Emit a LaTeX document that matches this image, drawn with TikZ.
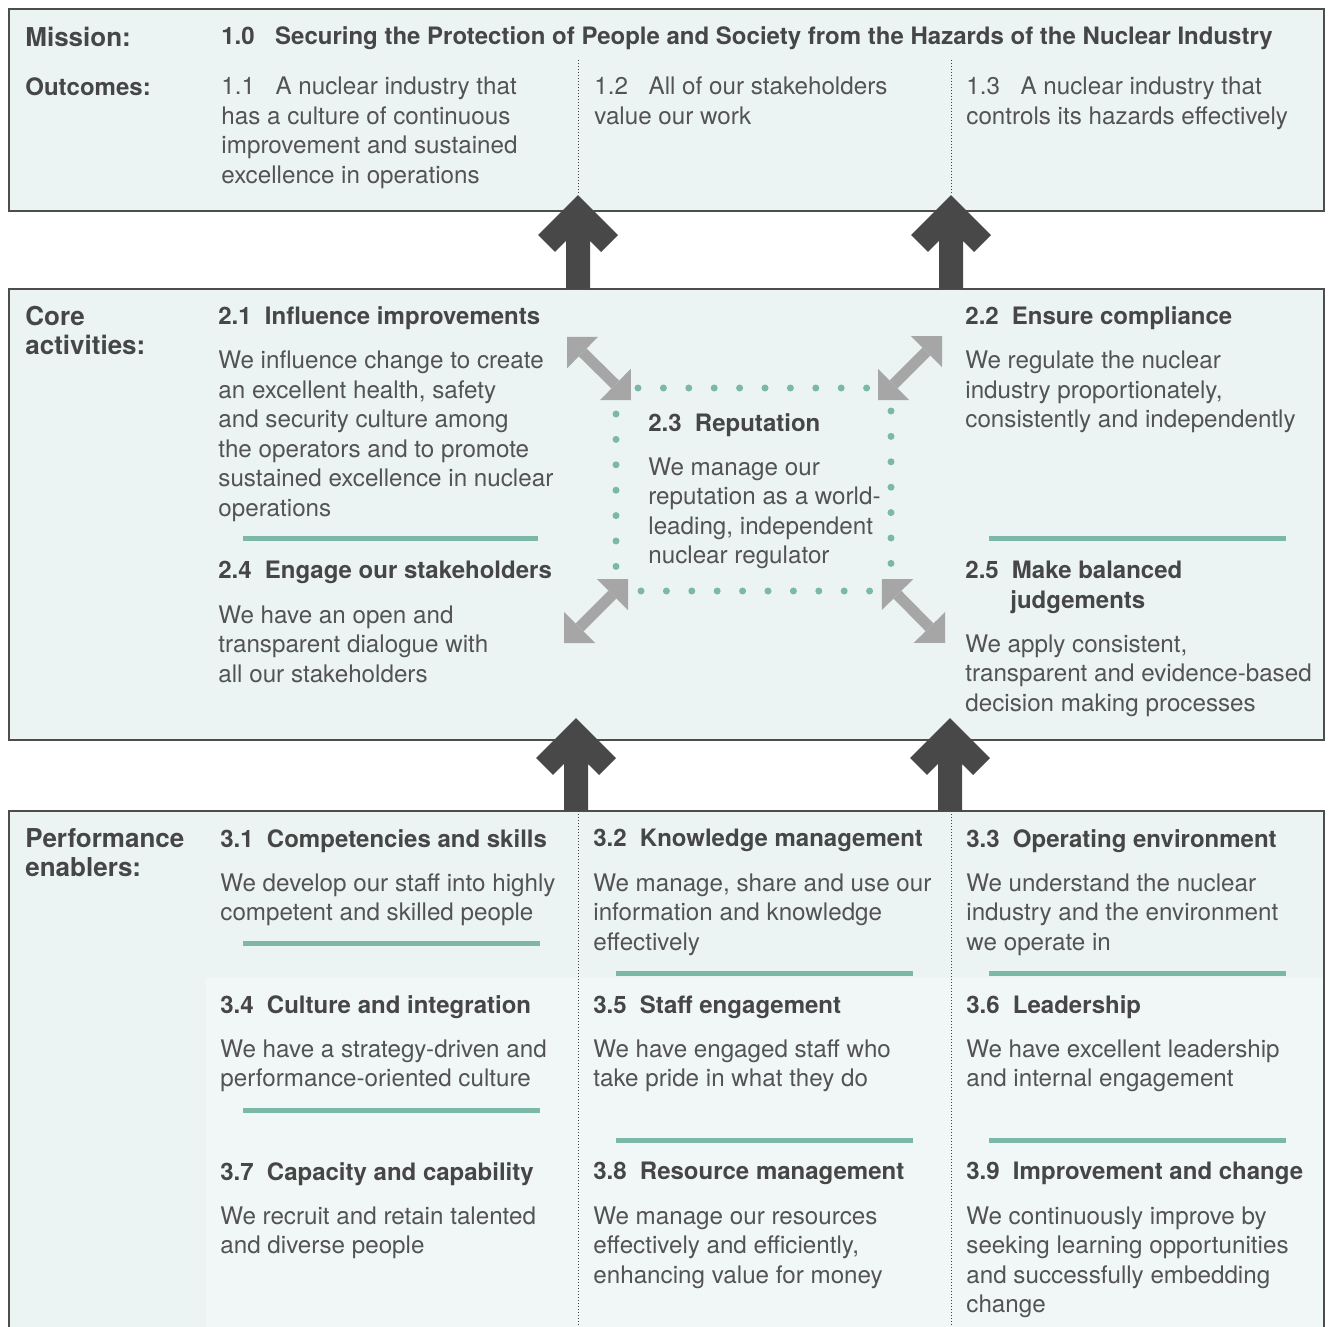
\documentclass[tikz,border=0pt]{standalone}
\usepackage{fontspec}
\setmainfont{TeX Gyre Heros}
\usetikzlibrary{arrows.meta}

\definecolor{ink}{HTML}{464646}
\definecolor{softink}{HTML}{535353}
\definecolor{panelfill}{HTML}{EBF4F3}
\definecolor{cellfill}{HTML}{F1F7F6}
\definecolor{frame}{HTML}{4D4D4D}
\definecolor{sage}{HTML}{7BB8A8}
\definecolor{arrowgrey}{HTML}{A6A6A6}
\definecolor{arrowdark}{HTML}{484848}

\newcommand\hgap{\hspace{0.55em}}
\newcommand\ogap{\hspace{0.85em}}

\tikzset{
  panel/.style={draw=frame, line width=0.7pt, fill=panelfill},
  rowname/.style={anchor=north west, inner sep=0pt, text=ink, align=left,
    font=\fontsize{13}{14.5}\selectfont\bfseries},
  cellhead/.style={anchor=north west, inner sep=0pt, text=ink, align=left,
    font=\fontsize{12}{14.75}\selectfont\bfseries},
  cellbody/.style={anchor=north west, inner sep=0pt, text=softink, align=left,
    font=\fontsize{12.1}{14.75}\selectfont},
  sepline/.style={draw=sage, line width=2.5pt},
  divider/.style={draw=black!75, line width=0.5pt, dash pattern=on 0.5pt off 1pt},
  dotline/.style={draw=sage, line width=3.5pt, line cap=round, dash pattern=on 0pt off 12.7pt},
  twoway/.style={draw=arrowgrey, line width=5.5pt,
    {Triangle[length=11pt,width=22pt,line width=0pt]}-{Triangle[length=11pt,width=22pt,line width=0pt]}},
  bigarrow/.style={draw=arrowdark, line width=12pt},
}

\begin{document}
\begin{tikzpicture}[x=0.5pt, y=-0.5pt]
    \fill[white] (0,0) rectangle (1330,1327);
    \useasboundingbox (0,0) rectangle (1330,1327);

    % panels
    \draw[panel] (9,9) rectangle (1324,211);
    \draw[panel] (9,289) rectangle (1324,740);
    \fill[panelfill] (9,811) rectangle (1324,1327);
    \fill[cellfill] (206,978) rectangle (1324,1327);
    \draw[draw=frame, line width=0.7pt] (9,1328) -- (9,811) -- (1324,811) -- (1324,1328);

    % dotted column lines
    \draw[divider] (578,60) -- (578,195);
    \draw[divider] (951,60) -- (951,195);
    \draw[divider] (578,811) -- (578,1327);
    \draw[divider] (951,811) -- (951,1327);

    % mission and outcomes
    \node[rowname] (missionlbl) at (25,26.3) {Mission:};
    \node[cellhead] (mission) at (221,26.5) {1.0\ogap Securing the Protection of People and Society from the Hazards of the Nuclear Industry};
    \node[rowname, font=\fontsize{12}{14.5}\selectfont\bfseries] (outcomeslbl) at (25,77) {Outcomes:};
    \node[cellbody] (out11) at (221,76.5) {1.1\ogap A nuclear industry that\\has a culture of continuous\\improvement and sustained\\excellence in operations};
    \node[cellbody] (out12) at (594,76.5) {1.2\ogap All of our stakeholders\\value our work};
    \node[cellbody] (out13) at (966,76.5) {1.3\ogap A nuclear industry that\\controls its hazards effectively};

    % core activities
    \node[rowname] (corelbl) at (25,306) {Core\\activities:};
    \node[cellhead] (h21) at (218,306.5) {2.1\hgap Influence improvements};
    \node[cellbody] (b21) at (218,350.5) {We influence change to create\\an excellent health, safety\\and security culture among\\the operators and to promote\\sustained excellence in nuclear\\operations};
    \node[cellhead] (h24) at (218,561) {2.4\hgap Engage our stakeholders};
    \node[cellbody] (b24) at (218,605) {We have an open and\\transparent dialogue with\\all our stakeholders};
    \node[cellhead] (h22) at (965,306.5) {2.2\hgap Ensure compliance};
    \node[cellbody] (b22) at (965,350.5) {We regulate the nuclear\\industry proportionately,\\consistently and independently};
    \node[cellhead] (h25) at (965,561) {2.5\hgap Make balanced\\\hspace*{1.875em}judgements};
    \node[cellbody] (b25) at (965,634) {We apply consistent,\\transparent and evidence-based\\decision making processes};
    \node[cellhead] (h23) at (648,413) {2.3\hgap Reputation};
    \node[cellbody] (b23) at (648,457) {We manage our\\reputation as a world-\\leading, independent\\nuclear regulator};

    \draw[sepline] (243,538) -- (538,538);
    \draw[sepline] (989,538) -- (1286,538);

    % reputation frame
    \draw[dotline] (638,388) -- (868,388);
    \draw[dotline] (641,591) -- (871,591);
    \draw[dotline] (616,414) -- (616,569);
    \draw[dotline] (891,411) -- (891,568);

    \coordinate (tl1) at (567,337);
    \coordinate (tl2) at (631,400);
    \coordinate (tr1) at (942,336);
    \coordinate (tr2) at (878,400);
    \coordinate (bl1) at (564,643);
    \coordinate (bl2) at (628,579);
    \coordinate (br1) at (945,643);
    \coordinate (br2) at (882,579);
    \draw[twoway] (tl1) -- (tl2);
    \draw[twoway] (tr1) -- (tr2);
    \draw[twoway] (bl1) -- (bl2);
    \draw[twoway] (br1) -- (br2);

    % performance enablers
    \node[rowname] (enablerslbl) at (25,828) {Performance\\enablers:};
    \node[cellhead] (h31) at (220,829) {3.1\hgap Competencies and skills};
    \node[cellbody] (b31) at (220,873) {We develop our staff into highly\\competent and skilled people};
    \node[cellhead] (h32) at (593,829) {3.2\hgap Knowledge management};
    \node[cellbody] (b32) at (593,873) {We manage, share and use our\\information and knowledge\\effectively};
    \node[cellhead] (h33) at (966,829) {3.3\hgap Operating environment};
    \node[cellbody] (b33) at (966,873) {We understand the nuclear\\industry and the environment\\we operate in};

    \node[cellhead] (h34) at (220,995) {3.4\hgap Culture and integration};
    \node[cellbody] (b34) at (220,1039) {We have a strategy-driven and\\performance-oriented culture};
    \node[cellhead] (h35) at (593,995) {3.5\hgap Staff engagement};
    \node[cellbody] (b35) at (593,1039) {We have engaged staff who\\take pride in what they do};
    \node[cellhead] (h36) at (966,995) {3.6\hgap Leadership};
    \node[cellbody] (b36) at (966,1039) {We have excellent leadership\\and internal engagement};

    \node[cellhead] (h37) at (220,1162) {3.7\hgap Capacity and capability};
    \node[cellbody] (b37) at (220,1206) {We recruit and retain talented\\and diverse people};
    \node[cellhead] (h38) at (593,1162) {3.8\hgap Resource management};
    \node[cellbody] (b38) at (593,1206) {We manage our resources\\effectively and efficiently,\\enhancing value for money};
    \node[cellhead] (h39) at (966,1162) {3.9\hgap Improvement and change};
    \node[cellbody] (b39) at (966,1206) {We continuously improve by\\seeking learning opportunities\\and successfully embedding\\change};

    \draw[sepline] (243,943) -- (540,943);
    \draw[sepline] (616,973) -- (913,973);
    \draw[sepline] (989,973) -- (1286,973);
    \draw[sepline] (243,1110) -- (540,1110);
    \draw[sepline] (616,1140) -- (913,1140);
    \draw[sepline] (989,1140) -- (1286,1140);

    % upward arrows
    \coordinate (out1) at (578,195);
    \coordinate (core1) at (578,289);
    \coordinate (out2) at (951,195);
    \coordinate (core2) at (951,289);
    \coordinate (core3) at (576,718);
    \coordinate (base3) at (576,811);
    \coordinate (core4) at (950,718);
    \coordinate (base4) at (950,811);
    \draw[bigarrow] (core1) -- ([yshift=-8.5pt]out1) ++(-31.5,31.5) -- ++(31.5,-31.5) -- ++(31.5,31.5);
    \draw[bigarrow] (core2) -- ([yshift=-8.5pt]out2) ++(-31.5,31.5) -- ++(31.5,-31.5) -- ++(31.5,31.5);
    \draw[bigarrow] (base3) -- ([yshift=-8.5pt]core3) ++(-31.5,31.5) -- ++(31.5,-31.5) -- ++(31.5,31.5);
    \draw[bigarrow] (base4) -- ([yshift=-8.5pt]core4) ++(-31.5,31.5) -- ++(31.5,-31.5) -- ++(31.5,31.5);
\end{tikzpicture}
\end{document}
